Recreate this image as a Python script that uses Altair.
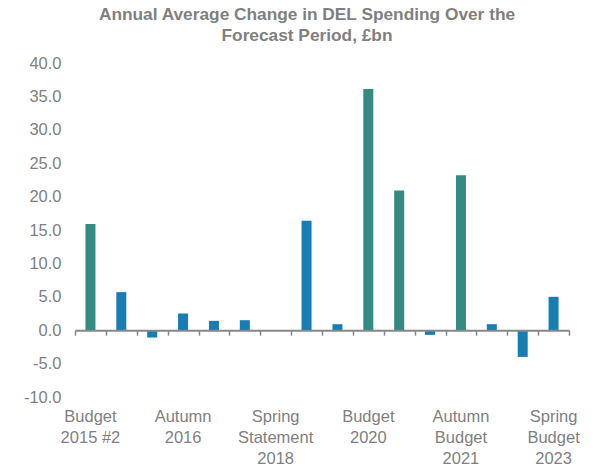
import altair as alt
import pandas as pd

categories = [
    "Budget 2015 #2", "Autumn Statement 2015", "Budget 2016", "Autumn Statement 2016",
    "Spring Budget 2017", "Autumn Budget 2017", "Spring Statement 2018", "Budget 2018",
    "Spring Statement 2019", "Budget 2020", "Spending Review 2020", "Budget 2021",
    "Autumn Budget 2021", "Spring Statement 2022", "Autumn Statement 2022", "Spring Budget 2023",
]
values = [15.9, 5.7, -1.1, 2.5, 1.4, 1.5, -0.1, 16.4,
          0.9, 36.1, 20.9, -0.7, 23.2, 0.9, -4.0, 5.0]
event_type = ["Multi-year", "Other", "Other", "Other", "Other", "Other", "Other", "Other",
              "Other", "Multi-year", "Multi-year", "Other", "Multi-year", "Other", "Other", "Other"]
axis_labels = [
    ["Budget", "2015 #2"], [], [], ["Autumn", "2016"], [], [], ["Spring", "Statement", "2018"], [],
    [], ["Budget", "2020"], [], [], ["Autumn", "Budget", "2021"], [], [], ["Spring", "Budget", "2023"],
]
y_ticks = [-10, -5, 0, 5, 10, 15, 20, 25, 30, 35, 40]

df = pd.DataFrame({"event": categories, "value": values, "type": event_type})

# build label expression from the label list
expr = "''"
for cat, lab in reversed(list(zip(categories, axis_labels))):
    if lab:
        arr = "[" + ",".join("'" + s + "'" for s in lab) + "]"
        expr = f"datum.value == '{cat}' ? {arr} : ({expr})"

GREY = "#7f7f7f"
FONT = "Liberation Sans"
W, H = 494, 334

base = alt.Chart(df)

y_enc = alt.Y("value:Q", title=None,
              scale=alt.Scale(domain=[-10, 40], nice=False),
              axis=alt.Axis(values=y_ticks, domain=False, ticks=False, grid=False,
                            labelExpr="replace(format(datum.value, '.1f'), '\u2212', '-')",
                            labelFontSize=16.5, labelColor=GREY, labelFont=FONT, labelPadding=14))

bars = base.mark_bar(size=10).encode(
    x=alt.X("event:N", sort=categories, title=None,
            scale=alt.Scale(paddingInner=0, paddingOuter=0),
            axis=alt.Axis(orient="bottom", domain=False, ticks=False, labelExpr=expr,
                          labelAngle=0, labelFontSize=16.5, labelColor=GREY, labelFont=FONT,
                          labelLineHeight=21, labelPadding=11, labelBaseline="top")),
    y=y_enc,
    color=alt.Color("type:N", legend=None,
                    scale=alt.Scale(domain=["Multi-year", "Other"], range=["#338b84", "#177db3"])),
)

zero_axis = base.mark_bar(size=10, opacity=0).encode(
    x=alt.X("event:N", sort=categories, title=None,
            axis=alt.Axis(orient="bottom", labels=False, domain=True, ticks=True,
                          tickBand="extent", tickSize=5, tickColor="#878787", tickWidth=1.5,
                          domainColor="#878787", domainWidth=2, offset=-H * 10 / 50, zindex=1)),
    y=y_enc,
)

chart = alt.layer(bars, zero_axis).resolve_axis(x="independent").properties(
    width=W, height=H,
    padding={"left": 75, "top": 63, "right": 31, "bottom": 69},
    autosize=alt.AutoSizeParams(type="none"),
    title=alt.TitleParams(
        text=["Annual Average Change in DEL Spending Over the", "Forecast Period, £bn"],
        fontSize=17.3, fontWeight="bold", color=GREY, font=FONT, lineHeight=20.5,
        anchor="middle", dx=-15, offset=11,
    ),
).configure_view(stroke=None)

chart.save("out.html", embed_options={"renderer": "svg", "actions": False})
